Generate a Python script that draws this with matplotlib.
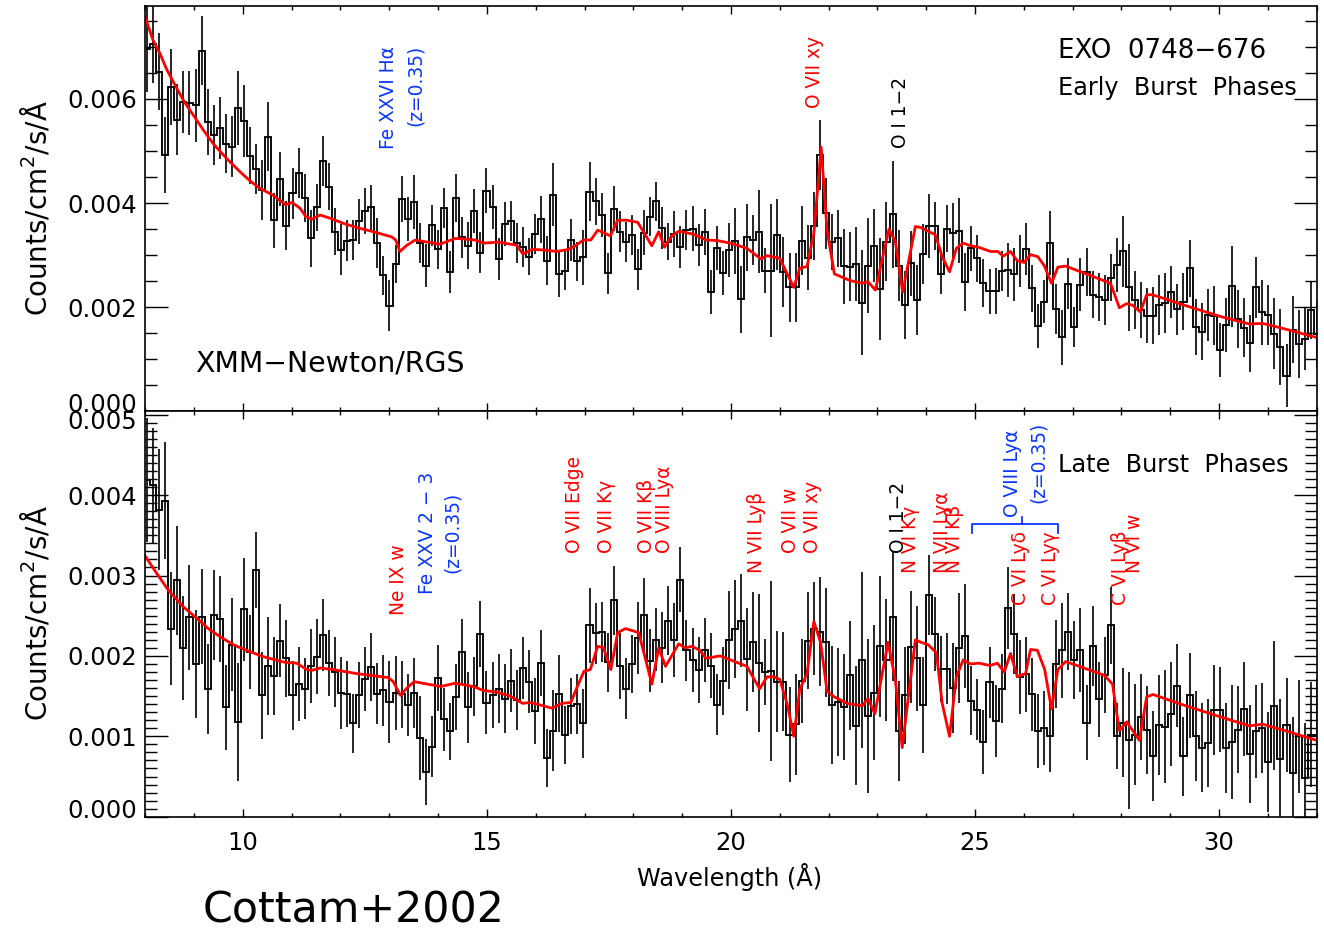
import numpy as np
import matplotlib
matplotlib.use("Agg")
import matplotlib.pyplot as plt
from matplotlib.ticker import MultipleLocator, FixedLocator
from matplotlib.transforms import ScaledTranslation

FONT = ['DejaVu Sans']
plt.rcParams['font.family'] = FONT

SCALE = 1e-3
BIN_START = 8.036
BIN_WIDTH = 0.1242

top_flux = [6.96,7.06,6.52,4.92,6.23,5.60,5.94,5.92,5.88,6.92,5.55,5.30,5.44,5.14,5.08,5.83,5.57,4.91,4.65,4.25,5.27,3.67,4.46,3.56,4.19,4.58,4.09,3.32,3.92,4.81,4.31,3.45,3.10,3.28,3.29,3.65,3.85,3.92,3.23,2.61,2.03,2.83,4.07,3.69,4.02,3.23,2.80,3.57,3.11,3.90,2.68,4.10,3.34,3.18,3.85,3.05,4.24,3.93,2.92,3.60,3.66,3.23,3.16,2.97,3.41,
3.69,2.89,4.16,2.63,2.70,3.29,2.88,2.96,4.22,4.03,3.77,2.65,3.89,3.45,3.25,3.39,2.73,3.43,3.74,4.03,3.52,3.26,3.40,3.15,3.48,3.51,3.19,3.44,2.29,3.13,2.65,3.10,3.27,2.15,3.34,3.29,3.45,2.70,2.70,3.39,2.68,2.38,2.38,3.28,2.95,3.56,4.92,3.80,3.25,3.32,2.79,2.78,2.83,2.09,2.80,3.18,2.35,3.26,3.78,2.80,2.04,2.84,2.14,
3.02,3.56,3.55,2.63,3.51,3.43,3.47,2.48,3.13,2.94,2.47,2.31,2.31,2.69,2.72,2.63,2.88,3.11,2.36,1.64,2.11,3.23,1.96,1.42,2.45,1.62,2.43,2.68,2.24,2.19,2.14,2.57,2.81,3.07,2.38,2.14,1.95,1.84,1.84,2.04,2.08,2.29,1.96,2.11,2.75,1.62,1.53,1.85,1.84,1.18,1.66,2.40,1.77,1.61,1.31,2.38,1.90,1.85,1.49,1.23,0.69,1.57,1.29,1.39,1.95,1.48]

top_sigma = [.83,.75,.74,.73,.73,.68,.60,.61,.70,.66,.63,.58,.59,.56,.58,.71,.69,.55,.48,.57,.66,.53,.51,.47,.49,.48,.46,.54,.45,.48,.45,.45,.49,.40,.38,.43,.44,.43,.48,.37,.49,.37,.44,.42,.52,.38,.42,.40,.38,.38,.40,.46,.39,.45,.42,.40,.43,.42,.40,.42,.38,.38,.38,.36,.38,
.45,.47,.60,.43,.37,.40,.38,.53,.57,.45,.42,.40,.43,.39,.39,.38,.39,.43,.37,.38,.40,.36,.44,.40,.39,.44,.40,.44,.42,.42,.42,.51,.63,.64,.65,.48,.80,.43,1.28,.68,.67,.67,.67,.67,.62,.65,.67,.68,.54,.54,.72,.66,.71,1.01,.91,.70,.98,.75,1.03,.68,.65,.62,.68,
.58,.61,.46,.37,.45,.57,.63,.56,.43,.45,.46,.43,.44,.38,.52,.51,.50,.50,.45,.43,.42,.62,.48,.52,.49,.39,.51,.46,.45,.46,.48,.45,.51,.69,.84,.55,.54,.53,.54,.58,.58,.50,.49,.54,.55,.54,.55,.50,.57,.52,.52,.77,.56,.56,.55,.58,.63,.58,.68,.73,.61,.64,.65,.60,.56,.64]

bot_flux = [4.19,4.12,3.82,3.93,2.34,2.94,2.10,2.48,1.90,2.49,1.59,2.51,2.46,1.36,2.14,1.18,2.58,2.05,3.07,1.51,1.88,1.75,2.19,1.97,1.51,1.65,1.59,1.87,1.99,2.26,1.91,1.80,1.54,1.53,1.16,1.51,1.71,1.86,1.53,1.57,1.43,1.54,1.52,1.39,1.54,.98,.56,.87,1.73,1.21,1.06,1.49,2.05,1.36,1.62,2.27,1.42,1.51,1.59,1.47,1.69,1.45,1.85,1.68,1.31,
1.91,.73,1.07,1.53,1.02,1.38,1.40,1.16,2.38,2.28,2.30,1.92,2.69,1.87,1.59,1.90,2.22,2.51,1.94,2.20,2.10,2.44,2.20,2.95,2.07,1.95,1.83,2.07,1.88,1.39,1.69,2.20,2.34,2.44,1.96,2.17,1.91,1.80,1.81,1.68,1.68,1.02,1.15,1.69,2.19,2.34,2.30,2.17,1.39,1.43,1.36,1.76,1.13,1.95,1.25,1.54,2.12,1.95,2.49,1.07,1.51,2.11,1.97,1.39,2.76,
2.27,1.84,1.84,1.60,2.10,2.25,1.44,1.33,.93,1.67,1.19,1.59,2.59,2.27,1.74,1.77,1.52,1.06,1.10,1.00,1.90,2.07,2.30,1.95,2.07,1.17,2.12,1.46,1.76,2.38,1.00,1.17,.95,1.02,1.24,1.08,.75,1.14,1.12,1.28,1.63,.75,1.51,1.00,.86,.92,1.33,1.33,.86,.93,1.08,1.34,.78,1.06,1.10,.68,1.38,.72,1.14,.54,1.00,.48,1.02,1.02]

bot_sigma = [.77,.71,.75,.73,.70,.68,.65,.65,.67,.59,.56,.56,.53,.53,.58,.73,.64,.46,.47,.54,.61,.48,.45,.48,.43,.46,.38,.46,.47,.45,.41,.44,.45,.41,.37,.41,.40,.42,.38,.44,.51,.46,.42,.39,.44,.52,.41,.38,.41,.39,.36,.41,.41,.44,.37,.41,.39,.41,.43,.43,.39,.37,.38,.39,.41,
.41,.36,.50,.48,.36,.35,.37,.43,.47,.38,.37,.37,.43,.41,.38,.36,.45,.46,.39,.39,.44,.43,.46,.40,.38,.40,.41,.40,.40,.38,.42,.61,.61,.58,.64,.62,.86,.41,1.12,.63,.62,.59,.63,.52,.60,.58,.68,.68,.73,.67,.66,.68,.74,1.09,.96,.84,.88,.76,.80,.62,.60,.70,.65,.60,.50,
.46,.41,.44,.56,.68,.65,.43,.38,.40,.44,.45,.43,.51,.50,.46,.47,.46,.46,.46,.45,.55,.59,.48,.48,.52,.47,.50,.47,.47,.48,.41,.68,.85,.63,.53,.55,.56,.62,.70,.65,.52,.49,.53,.56,.55,.55,.56,.53,.56,.71,.54,.59,.61,.58,.56,.62,.80,.75,.58,.70,.70,.68,.65,.70]

top_model_wave = [8.00,8.16,8.30,8.43,8.57,8.78,8.98,9.19,9.39,9.66,9.94,10.14,10.35,10.62,10.87,11.01,11.17,11.29,11.42,11.58,11.78,12.06,12.33,12.67,13.05,13.13,13.22,13.36,13.53,13.84,14.04,14.35,14.55,14.76,14.93,15.24,15.61,15.74,15.92,
16.16,16.43,16.67,16.81,16.98,17.13,17.27,17.53,17.68,17.87,18.09,18.38,18.52,18.64,18.79,18.93,19.24,19.50,19.72,19.99,20.33,20.61,20.74,21.00,21.15,21.29,21.41,21.56,21.70,21.85,21.97,22.12,22.45,22.69,22.81,22.96,23.24,23.37,23.52,23.78,
23.89,24.19,24.33,24.48,24.62,24.76,24.91,25.08,25.32,25.47,25.58,25.73,25.87,26.01,26.14,26.29,26.42,26.57,26.70,26.86,27.78,27.96,28.11,28.23,28.39,28.52,28.64,29.22,30.04,30.62,30.90,31.41,32.00]
top_model = [7.56,7.12,6.87,6.58,6.33,5.97,5.69,5.40,5.14,4.86,4.60,4.43,4.28,4.15,3.97,4.01,3.90,3.74,3.69,3.77,3.71,3.61,3.53,3.45,3.35,3.29,3.07,3.19,3.29,3.24,3.21,3.32,3.31,3.29,3.23,3.25,3.19,3.02,3.11,
3.10,3.07,3.11,3.18,3.29,3.29,3.48,3.37,3.67,3.67,3.63,3.18,3.45,3.15,3.37,3.46,3.40,3.29,3.28,3.23,3.13,2.93,2.99,2.94,2.65,2.38,2.75,2.78,3.42,5.07,3.48,2.64,2.51,2.46,2.49,2.33,3.50,3.26,2.29,3.55,
3.53,3.39,2.97,2.68,3.13,3.23,3.18,3.15,3.07,3.07,2.98,3.07,2.89,2.86,3.01,2.97,2.80,2.46,2.77,2.79,2.46,1.99,2.07,2.04,1.91,2.24,2.24,2.06,1.82,1.68,1.69,1.57,1.42]

bot_model_wave = [8.00,8.23,8.47,8.78,9.05,9.29,9.53,9.80,10.07,10.42,10.86,11.10,11.31,11.41,11.58,11.85,12.33,12.98,13.08,13.23,13.36,13.51,13.77,14.06,14.35,14.72,14.93,15.20,15.48,15.73,
15.89,16.09,16.33,16.54,16.72,16.84,16.99,17.12,17.27,17.39,17.54,17.68,17.84,18.11,18.38,18.52,18.66,18.93,19.07,19.20,19.36,19.49,19.78,20.33,20.43,20.59,20.74,20.88,21.00,21.15,21.29,21.41,21.56,21.70,21.84,21.97,22.12,22.38,22.69,22.81,22.95,23.22,23.37,23.51,23.78,
23.89,24.04,24.21,24.33,24.48,24.62,24.76,24.91,25.08,25.31,25.46,25.60,25.73,25.87,26.04,26.14,26.28,26.43,26.57,26.70,26.86,27.65,27.82,27.96,28.11,28.37,28.52,28.65,29.22,30.04,30.62,30.90,31.41,32.00]
bot_model = [3.24,3.03,2.82,2.61,2.47,2.34,2.24,2.14,2.07,1.99,1.92,1.91,1.83,1.82,1.85,1.83,1.78,1.73,1.68,1.51,1.60,1.68,1.65,1.62,1.66,1.62,1.57,1.55,1.50,1.41,
1.42,1.39,1.35,1.41,1.42,1.60,1.81,1.83,2.12,2.10,1.83,2.29,2.34,2.29,1.65,2.10,1.87,2.15,2.10,2.12,2.07,1.97,2.00,1.87,1.76,1.59,1.74,1.74,1.71,1.41,1.00,1.58,1.78,2.43,2.16,1.56,1.49,1.41,1.38,1.47,1.28,2.17,1.70,0.86,2.20,
2.17,2.14,2.04,1.41,1.00,1.74,1.95,1.90,1.91,1.88,1.91,1.80,2.03,1.74,1.78,2.08,2.07,1.83,1.34,1.83,1.93,1.76,1.65,1.07,1.18,0.95,1.49,1.52,1.40,1.24,1.13,1.15,1.06,0.95]

x_tick_values = [10, 15, 20, 25, 30]
top_y_ticks = [0.000, 0.002, 0.004, 0.006]
bot_y_ticks = [0.000, 0.001, 0.002, 0.003, 0.004, 0.005]

RED, BLUE, BLACK = '#ff0000', '#0a35ff', '#000000'

top_lines = [("Fe XXVI Hα", BLUE, 388, 149), ("(z=0.35)", BLUE, 415, 126),
             ("O VII xy", RED, 814, 108), ("O I 1−2", BLACK, 901, 148)]
bot_lines = [("Ne IX w", RED, 398, 615), ("Fe XXV 2 − 3", BLUE, 428, 594), ("(z=0.35)", BLUE, 452, 573),
             ("O VII Edge", RED, 574, 553), ("O VII Kγ", RED, 607, 553), ("O VII Kβ", RED, 646, 553),
             ("O VIII Lyα", RED, 664, 553), ("N VII Lyβ", RED, 757, 573), ("O VII w", RED, 791, 553),
             ("O VII xy", RED, 813, 553), ("O I 1−2", BLACK, 899, 553), ("N VI Kγ", RED, 910, 573),
             ("N VII Lyα", RED, 942, 573), ("N VI Kβ", RED, 955, 573), ("O VIII Lyα", BLUE, 1013, 517),
             ("(z=0.35)", BLUE, 1038, 503), ("C VI Lyδ", RED, 1020, 605), ("C VI Lyγ", RED, 1050, 605),
             ("C VI Lyβ", RED, 1121, 605), ("N VI w", RED, 1135, 573)]

W, H = 1324, 930
fig = plt.figure(figsize=(W / 100, H / 100), dpi=100)
L, R = 145.3, 1316.5
ax1 = fig.add_axes([L / W, 1 - 411.5 / H, (R - L) / W, (411.5 - 6) / H])
ax2 = fig.add_axes([L / W, 1 - 816.7 / H, (R - L) / W, (816.7 - 411.5) / H])


def panel(ax, flux, sigma, mw, mv, ylim, yticks, yminor):
    flux = np.array(flux) * SCALE
    sigma = np.array(sigma) * SCALE
    wave = BIN_START + BIN_WIDTH * np.arange(len(flux))
    ax.step(wave, flux, where='mid', color='#000000', lw=1.35, solid_joinstyle='miter')
    ax.vlines(wave, flux - sigma, flux + sigma, color='#000000', lw=1.2)
    ax.plot(mw, np.array(mv) * SCALE, color=RED, lw=2.0)
    ax.set_xlim(8, 32)
    ax.set_ylim(*ylim)
    ax.xaxis.set_major_locator(FixedLocator(x_tick_values))
    ax.xaxis.set_minor_locator(MultipleLocator(1))
    ax.yaxis.set_major_locator(FixedLocator(yticks))
    ax.yaxis.set_minor_locator(MultipleLocator(yminor))
    ax.tick_params(axis='x', which='major', direction='in', top=True, bottom=True, length=5.5, width=1.0)
    ax.tick_params(axis='x', which='minor', direction='in', top=True, bottom=True, length=3, width=1.0)
    ax.tick_params(axis='y', which='major', direction='in', left=True, right=True, length=16.5, width=1.0, pad=6)
    ax.tick_params(axis='y', which='minor', direction='in', left=True, right=True, length=8.3, width=1.0)
    ax.set_yticklabels([f"{v:.3f}" for v in yticks], fontsize=17.5)
    for s in ax.spines.values():
        s.set_linewidth(1.2)


panel(ax1, top_flux, top_sigma, top_model_wave, top_model, (0, 0.00778), top_y_ticks, 0.0005)
panel(ax2, bot_flux, bot_sigma, bot_model_wave, bot_model, (0, 0.00504), bot_y_ticks, 0.0001)
ax1.tick_params(axis='x', labelbottom=False)
ax2.set_xticklabels([str(v) for v in x_tick_values], fontsize=17.5)
ax2.tick_params(axis='x', which='major', pad=10)


def nudge(label, va, dy_px):
    label.set_va(va)
    label.set_transform(label.get_transform() + ScaledTranslation(0, dy_px / 100, fig.dpi_scale_trans))


nudge(ax1.get_yticklabels()[0], 'bottom', -6)
nudge(ax2.get_yticklabels()[0], 'bottom', -6)
nudge(ax2.get_yticklabels()[-1], 'top', 5)


def px_text(x, y, s, **kw):
    return fig.text(x / W, 1 - y / H, s, **kw)


for s, c, x, y in top_lines + bot_lines:
    px_text(x, y, s, color=c, rotation=90, ha='center', va='bottom', fontsize=13.4)

px_text(1058, 51, "EXO  0748−676", ha='left', va='center', fontsize=18.8)
px_text(1058, 88, "Early  Burst  Phases", ha='left', va='center', fontsize=17.3)
px_text(1058, 465, "Late  Burst  Phases", ha='left', va='center', fontsize=17.3)
px_text(195, 363, "XMM−Newton/RGS", ha='left', va='center', fontsize=20.4)
px_text(36, 208, "Counts/cm$^2$/s/Å", rotation=90, ha='center', va='center', fontsize=20)
px_text(36, 613, "Counts/cm$^2$/s/Å", rotation=90, ha='center', va='center', fontsize=20)
px_text(730, 877, "Wavelength (Å)", ha='center', va='center', fontsize=17.3)
px_text(203, 910, "Cottam+2002", ha='left', va='center', fontsize=30.8)

ax2.plot([24.95, 24.95, 26.70, 26.70], [0.00353, 0.00364, 0.00364, 0.00353], color=BLUE, lw=1.3, clip_on=False)
ax2.plot([25.96, 25.96], [0.00364, 0.00373], color=BLUE, lw=1.3, clip_on=False)

fig.savefig("out.png", dpi=100)
